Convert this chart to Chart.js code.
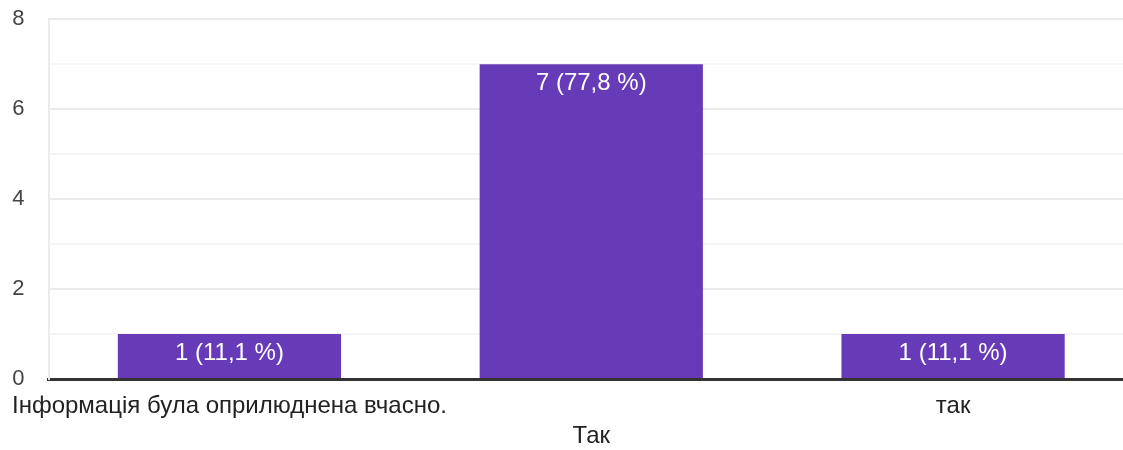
<!DOCTYPE html>
<html>
<head>
<meta charset="utf-8">
<script src="https://cdn.jsdelivr.net/npm/chart.js@4"></script>
<style>
  body { margin: 0; overflow: hidden; background: #fff; }
  #wrap { width: 1134px; height: 468px; position: relative; top: -18px; }
</style>
</head>
<body>
<div id="wrap"><canvas id="chart"></canvas></div>
<script>
const categories = ["Інформація була оприлюднена вчасно.", "Так", "так"];
const counts = [1, 7, 1];
const yTicks = [0, 2, 4, 6, 8];

const total = counts.reduce((a, b) => a + b, 0);
const FONT = "'Liberation Sans', Arial, sans-serif";

// labels on top of each bar, e.g. "7 (77,8 %)"
const barLabels = {
  id: 'barLabels',
  afterDatasetsDraw(chart) {
    const ctx = chart.ctx;
    const meta = chart.getDatasetMeta(0);
    ctx.save();
    ctx.fillStyle = '#fff';
    ctx.font = '24px ' + FONT;
    ctx.textAlign = 'center';
    ctx.textBaseline = 'top';
    meta.data.forEach((bar, i) => {
      const pct = (counts[i] / total * 100).toFixed(1).replace('.', ',');
      ctx.fillText(`${counts[i]} (${pct} %)`, bar.x, bar.y + 7);
    });
    ctx.restore();
  }
};

new Chart(document.getElementById('chart'), {
  type: 'bar',
  data: {
    labels: categories,
    datasets: [{
      data: counts,
      backgroundColor: '#673ab7',
      barPercentage: 0.617,
      categoryPercentage: 1
    }]
  },
  options: {
    responsive: true,
    maintainAspectRatio: false,
    animation: false,
    layout: { padding: 0 },
    plugins: { legend: { display: false }, tooltip: { enabled: false } },
    scales: {
      x: {
        z: 1,
        grid: { display: false },
        border: { color: '#333', width: 3 },
        ticks: {
          color: '#222',
          font: { size: 24, family: FONT, lineHeight: 1.25 },
          padding: 4,
          maxRotation: 0,
          autoSkip: false,
          callback: (v, i) => i % 2 === 1 ? ['', categories[i]] : categories[i]
        },
        afterFit: s => { s.height = 71; }
      },
      y: {
        min: 0,
        max: 8,
        grid: {
          drawTicks: false,
          lineWidth: 2,
          color: c => c.tick.value % 2 === 0 ? '#ebebeb' : '#f5f5f5'
        },
        border: { color: '#ebebeb', width: 2 },
        ticks: {
          stepSize: 1,
          padding: 24,
          color: '#444',
          font: { size: 22, family: FONT },
          callback: v => yTicks.includes(v) ? v : ''
        },
        afterFit: s => { s.width = 48; }
      }
    }
  },
  plugins: [barLabels]
});
</script>
</body>
</html>
